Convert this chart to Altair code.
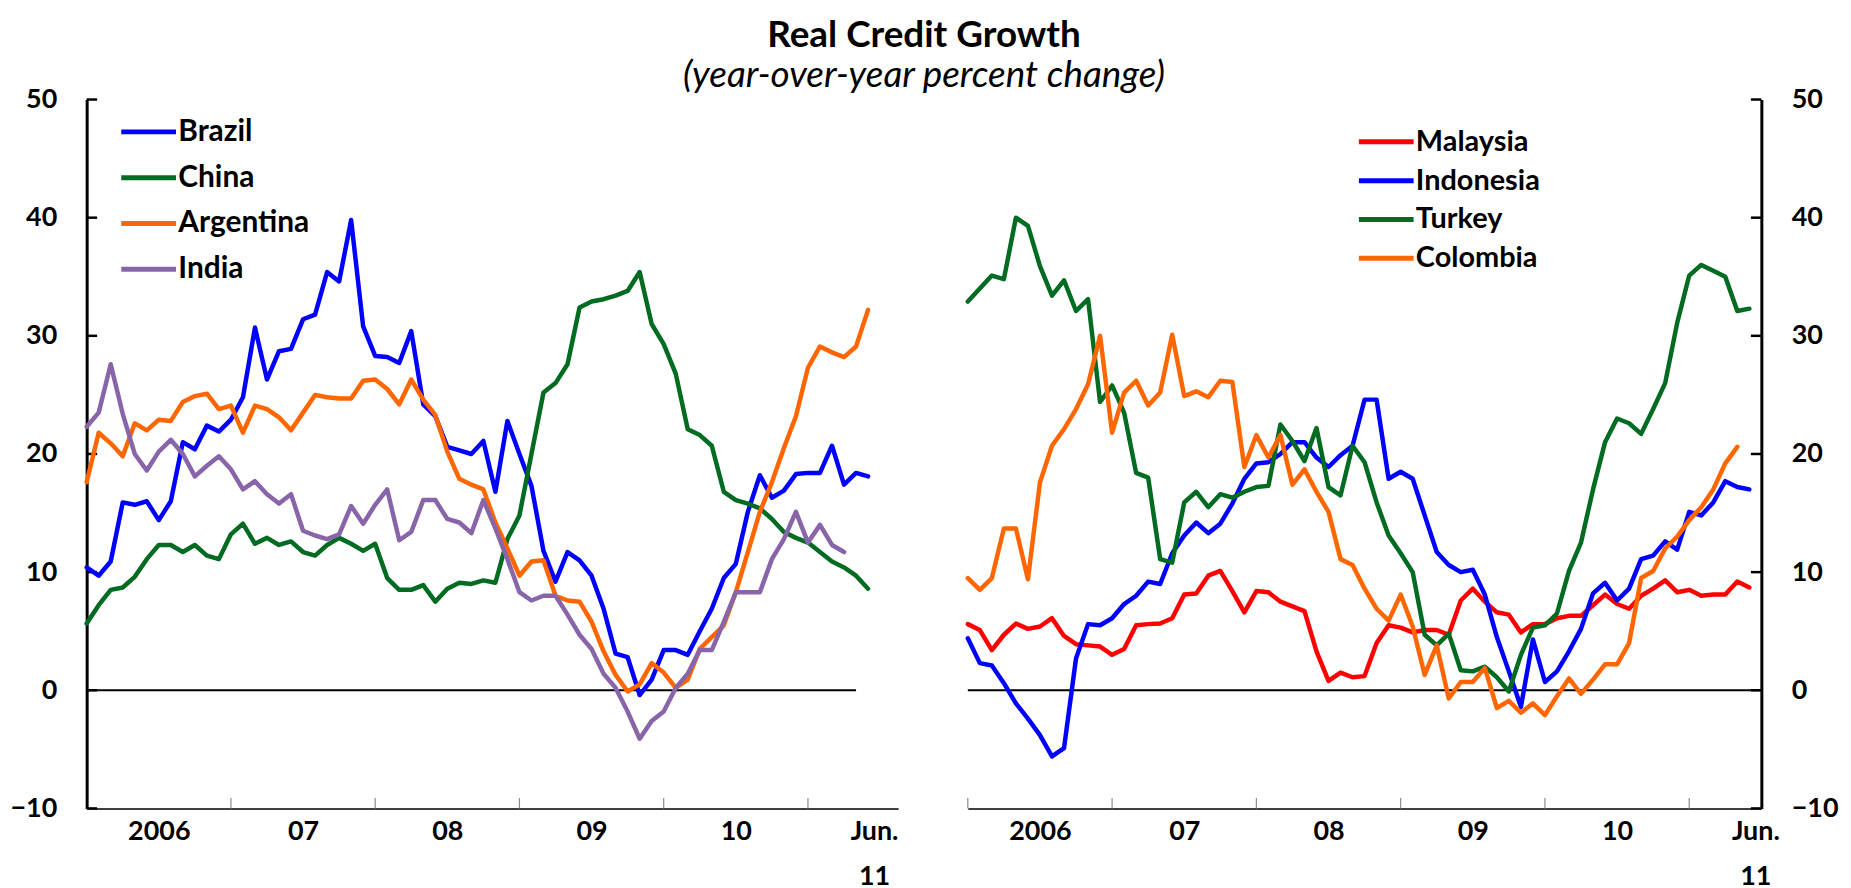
import altair as alt
import pandas as pd

# ---------------- data (monthly, Jan 2006 = 0 ... Jun 2011 = 65) ----------------
left_names = ["Brazil", "China", "Argentina", "India"]
left_colors = ["#0000FF", "#006B21", "#FF6600", "#8864A8"]
right_names = ["Malaysia", "Indonesia", "Turkey", "Colombia"]
right_colors = ["#FF0000", "#0000FF", "#006B21", "#FF6600"]

brazil = [10.4, 9.7, 10.9, 15.9, 15.7, 16.0, 14.4, 16.0, 21.0, 20.4, 22.4, 21.9,
          22.9, 24.8, 30.7, 26.3, 28.7, 28.9, 31.4, 31.8, 35.4, 34.6, 39.8, 30.8,
          28.3, 28.2, 27.7, 30.4, 24.2, 23.2, 20.6, 20.3, 20.0, 21.1, 16.8, 22.8,
          20.0, 17.3, 11.8, 9.2, 11.7, 11.0, 9.7, 6.9, 3.1, 2.8, -0.4, 0.9,
          3.4, 3.4, 3.0, 5.0, 6.9, 9.5, 10.7, 15.1, 18.2, 16.3, 16.9, 18.3,
          18.4, 18.4, 20.7, 17.4, 18.4, 18.1]
china = [5.65, 7.2, 8.5, 8.7, 9.6, 11.1, 12.3, 12.3, 11.7, 12.3, 11.4, 11.1,
         13.2, 14.1, 12.4, 12.9, 12.3, 12.6, 11.7, 11.4, 12.3, 12.9, 12.4, 11.8,
         12.4, 9.5, 8.5, 8.5, 8.9, 7.5, 8.6, 9.1, 9.0, 9.3, 9.1, 12.8,
         14.8, 20.0, 25.2, 26.0, 27.6, 32.4, 32.9, 33.1, 33.4, 33.8, 35.4, 31.0,
         29.3, 26.8, 22.1, 21.6, 20.7, 16.8, 16.1, 15.8, 15.4, 14.5, 13.4, 12.9,
         12.5, 11.7, 10.9, 10.4, 9.7, 8.6]
argentina = [17.6, 21.8, 20.9, 19.8, 22.6, 22.0, 22.9, 22.8, 24.4, 24.9, 25.1, 23.8,
             24.1, 21.8, 24.1, 23.8, 23.1, 22.0, 23.5, 25.0, 24.8, 24.7, 24.7, 26.2,
             26.3, 25.5, 24.2, 26.3, 24.6, 23.3, 20.2, 17.9, 17.4, 17.0, 14.2, 12.0,
             9.7, 10.9, 11.0, 8.0, 7.6, 7.5, 5.8, 3.3, 1.3, -0.1, 0.5, 2.3,
             1.5, 0.2, 0.9, 3.5, 4.5, 5.5, 8.3, 11.7, 15.1, 17.6, 20.5, 23.2,
             27.3, 29.1, 28.6, 28.2, 29.1, 32.2]
india = [22.3, 23.5, 27.6, 23.4, 20.0, 18.6, 20.2, 21.2, 20.0, 18.1, 19.0, 19.8,
         18.7, 17.0, 17.7, 16.6, 15.8, 16.6, 13.5, 13.1, 12.8, 13.2, 15.6, 14.1,
         15.7, 17.0, 12.7, 13.4, 16.1, 16.1, 14.5, 14.2, 13.3, 16.1, 13.7, 11.1,
         8.3, 7.6, 8.0, 8.0, 6.4, 4.7, 3.5, 1.4, 0.2, -1.8, -4.1, -2.6,
         -1.8, 0.2, 1.4, 3.4, 3.4, 5.8, 8.3, 8.3, 8.3, 11.1, 12.8, 15.1,
         12.5, 14.0, 12.3, 11.7]

malaysia = [5.6, 5.1, 3.4, 4.7, 5.65, 5.2, 5.4, 6.1, 4.6, 3.9, 3.8, 3.7,
            3.0, 3.5, 5.5, 5.6, 5.65, 6.1, 8.1, 8.2, 9.7, 10.1, 8.4, 6.6,
            8.4, 8.3, 7.5, 7.1, 6.7, 3.3, 0.8, 1.5, 1.1, 1.2, 4.0, 5.5,
            5.3, 4.9, 5.1, 5.1, 4.7, 7.6, 8.6, 7.5, 6.6, 6.4, 4.9, 5.6,
            5.6, 6.1, 6.3, 6.3, 7.2, 8.1, 7.3, 6.9, 8.0, 8.6, 9.3, 8.3,
            8.5, 8.0, 8.1, 8.1, 9.2, 8.7]
indonesia = [4.4, 2.3, 2.1, 0.6, -1.1, -2.4, -3.8, -5.6, -4.9, 2.7, 5.6, 5.5,
             6.1, 7.3, 8.0, 9.2, 9.0, 11.6, 13.1, 14.2, 13.3, 14.1, 15.8, 17.9,
             19.2, 19.3, 20.0, 21.0, 21.0, 19.7, 18.9, 19.9, 20.7, 24.6, 24.6, 17.9,
             18.5, 17.9, 14.8, 11.7, 10.6, 10.0, 10.2, 8.1, 4.5, 1.6, -1.4, 4.3,
             0.7, 1.6, 3.3, 5.2, 8.2, 9.1, 7.6, 8.6, 11.1, 11.4, 12.6, 11.9,
             15.1, 14.8, 15.9, 17.7, 17.2, 17.0]
turkey = [32.9, 34.0, 35.1, 34.8, 40.0, 39.3, 35.9, 33.4, 34.7, 32.1, 33.1, 24.4,
          25.8, 23.5, 18.4, 18.0, 11.1, 10.8, 15.9, 16.8, 15.5, 16.6, 16.3, 16.8,
          17.2, 17.3, 22.5, 21.1, 19.4, 22.2, 17.2, 16.5, 20.7, 19.3, 15.9, 13.1,
          11.6, 10.0, 4.7, 3.8, 4.8, 1.7, 1.6, 2.0, 1.1, -0.1, 3.0, 5.3,
          5.5, 6.5, 10.1, 12.5, 17.0, 21.0, 23.0, 22.6, 21.7, 23.8, 26.0, 31.1,
          35.1, 36.0, 35.5, 35.0, 32.1, 32.3]
colombia = [9.5, 8.5, 9.5, 13.7, 13.7, 9.4, 17.6, 20.7, 22.1, 23.8, 25.9, 30.0,
            21.8, 25.2, 26.2, 24.1, 25.2, 30.1, 24.9, 25.3, 24.8, 26.2, 26.1, 18.9,
            21.6, 19.7, 21.6, 17.4, 18.7, 16.8, 15.1, 11.1, 10.6, 8.6, 6.9, 5.9,
            8.1, 5.4, 1.3, 3.8, -0.7, 0.7, 0.7, 1.9, -1.5, -0.9, -1.9, -1.1,
            -2.1, -0.5, 1.0, -0.3, 0.9, 2.2, 2.2, 4.0, 9.5, 10.1, 12.0, 13.0,
            14.4, 15.5, 17.0, 19.2, 20.6]

y_ticks = [-10, 0, 10, 20, 30, 40, 50]
year_ticks = [12, 24, 36, 48, 60]
x_label_pos = [6, 18, 30, 42, 54, 65.5]
x_label_txt = ["2006", "07", "08", "09", "10", "Jun.|11"]

FONT = "Lato"


def long_frame(names, series):
    rows = []
    for name, vals in zip(names, series):
        for i, v in enumerate(vals):
            rows.append({"m": i, "v": v, "country": name})
    return pd.DataFrame(rows)


def label_expr():
    expr = "''"
    for p, t in reversed(list(zip(x_label_pos, x_label_txt))):
        if "|" in t:
            a, b = t.split("|")
            txt = "['%s', '%s']" % (a, b)
        else:
            txt = "'%s'" % t
        expr = "datum.value == %s ? %s : (%s)" % (p, txt, expr)
    return expr


def panel(names, colors, series, xmax, width, side, zero_end, legend_x, legend_y,
          legend_font, legend_row_pad):
    df = long_frame(names, series)
    xs = alt.Scale(domain=[0, xmax], nice=False, zero=False)
    ys = alt.Scale(domain=[-10, 50], nice=False, zero=False)
    xaxis = alt.Axis(values=x_label_pos, labelExpr=label_expr(), title=None, grid=False,
                     ticks=False, tickSize=0, domain=True, domainColor="black", domainWidth=1.6,
                     labelFont=FONT, labelFontWeight="bold", labelFontSize=27,
                     labelColor="black", labelPadding=10, labelLineHeight=45,
                     labelAngle=0, labelOverlap=False, labelFlush=False, labelBound=False)
    yaxis = alt.Axis(values=y_ticks, orient=side, title=None, grid=False, ticks=False,
                     tickSize=0, domain=True, domainColor="black", domainWidth=3, labelFont=FONT,
                     labelFontWeight="bold", labelFontSize=27, labelColor="black",
                     labelPadding=30, labelOverlap=False, labelFlush=False, labelBound=False)

    lines = alt.Chart(df).mark_line(strokeWidth=4.5, strokeJoin="round", strokeCap="round").encode(
        x=alt.X("m:Q", scale=xs, axis=xaxis),
        y=alt.Y("v:Q", scale=ys, axis=yaxis),
        color=alt.Color("country:N", scale=alt.Scale(domain=names, range=colors),
                        sort=names,
                        legend=alt.Legend(title=None, orient="none", legendX=legend_x,
                                          legendY=legend_y, direction="vertical",
                                          symbolType="M-1,0H3", symbolSize=756,
                                          symbolStrokeWidth=5, labelOffset=27,
                                          labelFont=FONT, labelFontWeight="bold",
                                          labelFontSize=legend_font, labelColor="black",
                                          rowPadding=legend_row_pad, padding=0,
                                          labelLimit=400)),
        detail="country:N",
    )

    zero_df = pd.DataFrame({"m": [0], "m2": [zero_end], "v": [0]})
    zero = alt.Chart(zero_df).mark_rule(color="black", strokeWidth=2).encode(
        x=alt.X("m:Q", scale=xs, axis=xaxis), x2="m2:Q",
        y=alt.Y("v:Q", scale=ys, axis=yaxis))

    tick_len_x = 10.5 / (width / xmax)
    if side == "left":
        yt = pd.DataFrame({"v": y_ticks, "m": 0.0, "m2": tick_len_x})
    else:
        yt = pd.DataFrame({"v": y_ticks, "m": xmax - tick_len_x, "m2": float(xmax)})
    yticks = alt.Chart(yt).mark_rule(color="black", strokeWidth=2.5).encode(
        x=alt.X("m:Q", scale=xs, axis=xaxis), x2="m2:Q",
        y=alt.Y("v:Q", scale=ys, axis=yaxis))

    xt_vals = year_ticks if side == "left" else [0] + year_ticks
    xt = pd.DataFrame({"m": xt_vals, "v": -10.0, "v2": -10.0 + 10.5 / (712 / 60)})
    xticks = alt.Chart(xt).mark_rule(color="#8C8C8C", strokeWidth=1.2).encode(
        x=alt.X("m:Q", scale=xs, axis=xaxis),
        y=alt.Y("v:Q", scale=ys, axis=yaxis), y2="v2:Q")

    return alt.layer(zero, xticks, yticks, lines).properties(width=width, height=712)


left = panel(left_names, left_colors, [brazil, china, argentina, india], 67.5, 815,
             "left", 64, 32, 16, 30, 14)
right = panel(right_names, right_colors, [malaysia, indonesia, turkey, colombia], 66, 797,
              "right", 66, 390, 26, 29, 7)

chart = alt.hconcat(left, right, spacing=70).resolve_scale(
    color="independent", x="independent", y="independent"
).resolve_legend(color="independent").properties(
    bounds="flush",
    background="white",
    padding={"left": 2, "top": 7, "right": 5, "bottom": 0},
    title=alt.TitleParams(
        "Real Credit Growth",
        subtitle="(year-over-year percent change)",
        font=FONT, fontSize=37, fontWeight="bold", color="black",
        subtitleFont=FONT, subtitleFontSize=37, subtitleFontStyle="italic",
        subtitleColor="black", subtitlePadding=3, anchor="middle", offset=-9,
    ),
).configure_view(stroke=None)

chart.save("out.html", embed_options={"renderer": "svg", "actions": False})
